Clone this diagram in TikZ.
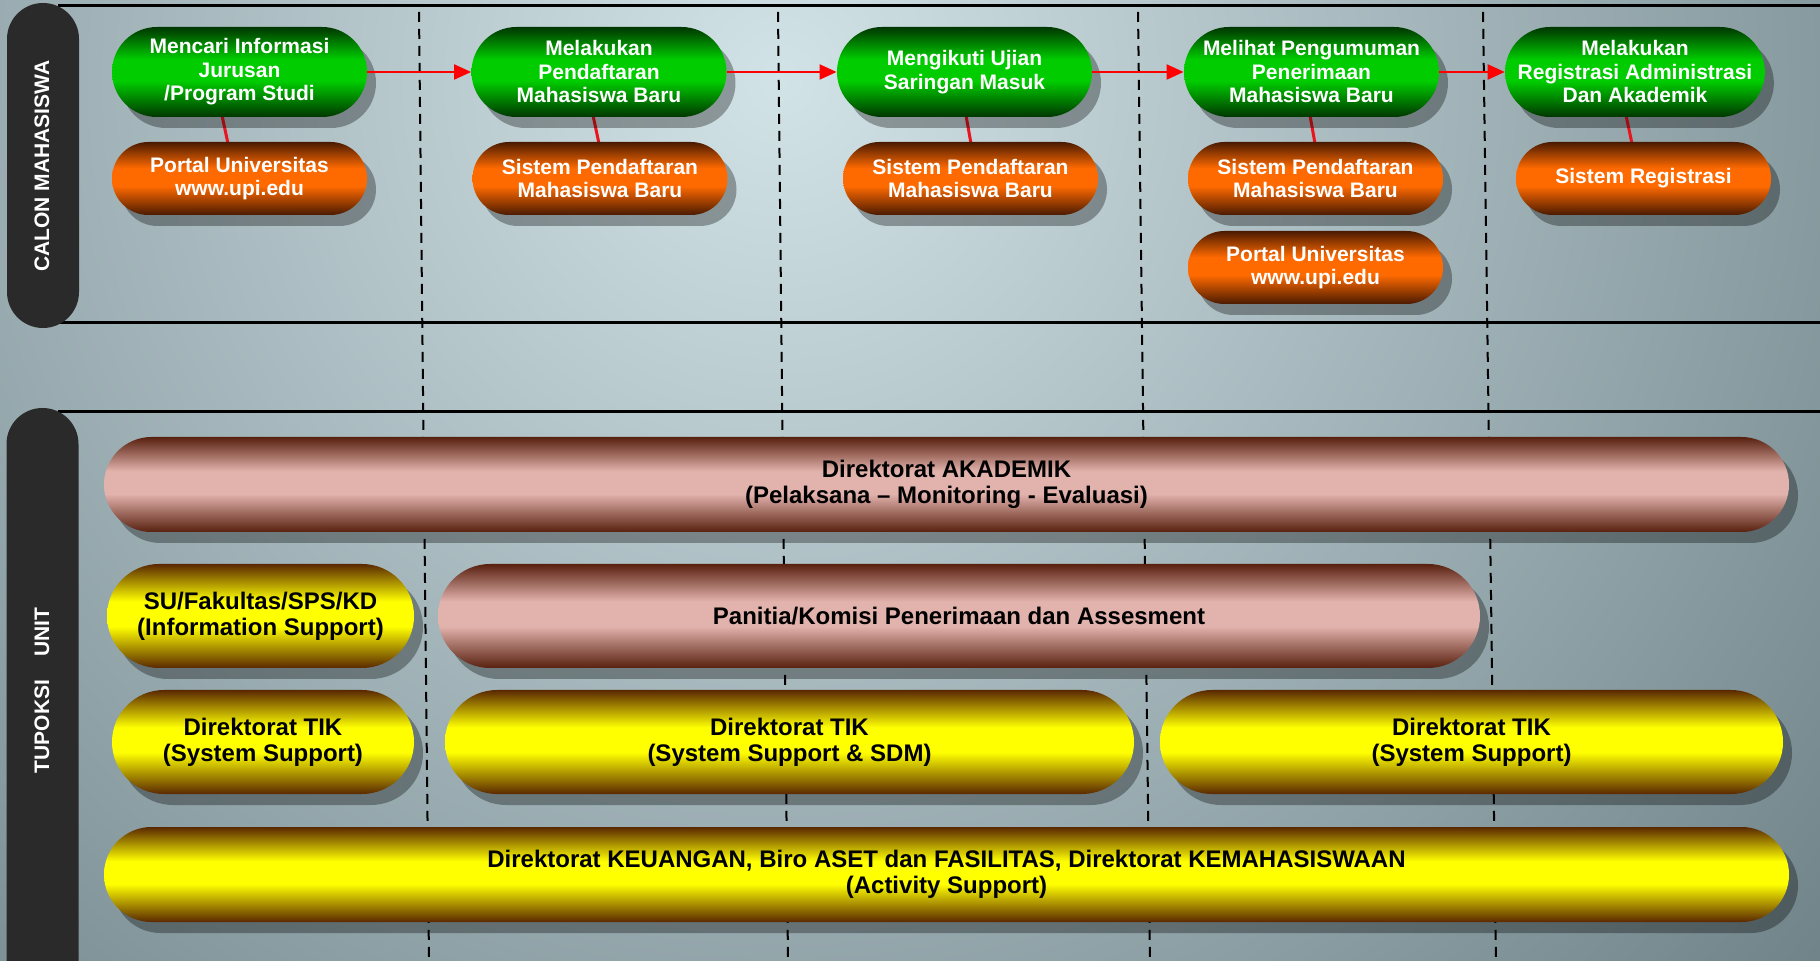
\documentclass[tikz,border=0pt]{standalone}
\usepackage{fontspec}
\setmainfont{Liberation Sans}
\usetikzlibrary{shapes.misc,shadows,arrows.meta,calc}

\definecolor{bglight}{HTML}{D2E3E7}
\definecolor{bgdark}{HTML}{667A7F}
\definecolor{gdark}{HTML}{003600}
\definecolor{gbright}{HTML}{00CC00}
\definecolor{odark}{HTML}{4A1A00}
\definecolor{obright}{HTML}{FF6A00}
\definecolor{pdark}{HTML}{58200F}
\definecolor{pbright}{HTML}{E2B2AC}
\definecolor{ydark}{HTML}{5A2800}
\definecolor{ybright}{HTML}{FFFF00}
\definecolor{sidefill}{HTML}{2A2A2A}
\definecolor{linkred}{HTML}{E8141E}
\definecolor{flowred}{HTML}{FF0000}

\pgfdeclareverticalshading{greenpill}{100bp}{color(0bp)=(gdark); color(25bp)=(gdark); color(45bp)=(gbright); color(57bp)=(gbright); color(75bp)=(gdark); color(100bp)=(gdark)}
\pgfdeclareverticalshading{orangepill}{100bp}{color(0bp)=(odark); color(25bp)=(odark); color(45bp)=(obright); color(57bp)=(obright); color(75bp)=(odark); color(100bp)=(odark)}
\pgfdeclareverticalshading{pinkpill}{100bp}{color(0bp)=(pdark); color(25bp)=(pdark); color(45bp)=(pbright); color(57bp)=(pbright); color(75bp)=(pdark); color(100bp)=(pdark)}
\pgfdeclareverticalshading{yellowpill}{100bp}{color(0bp)=(ydark); color(25bp)=(ydark); color(45bp)=(ybright); color(57bp)=(ybright); color(75bp)=(ydark); color(100bp)=(ydark)}

\pgfdeclarelayer{bg}
\pgfdeclarelayer{conn}
\pgfsetlayers{bg,conn,main}

\newcommand\topfont{\bfseries\fontsize{10.5pt}{11.75pt}\selectfont}
\newcommand\lowfont{\bfseries\fontsize{12pt}{12.9pt}\selectfont}
\newcommand\sidefont{\bfseries\fontsize{10.5pt}{12pt}\selectfont}

\tikzset{
  pill/.style={rounded rectangle, inner sep=0pt, align=center, shade,
    drop shadow={shadow xshift=4.5pt, shadow yshift=-5.5pt, fill=black, opacity=0.32}},
  greenbox/.style={pill, shading=greenpill, text=white, font=\topfont,
    minimum width=127.5pt, minimum height=45pt},
  orangebox/.style={pill, shading=orangepill, text=white, font=\topfont,
    minimum width=127.5pt, minimum height=36.5pt},
  pinkbox/.style={pill, shading=pinkpill, text=black, font=\lowfont},
  yellowbox/.style={pill, shading=yellowpill, text=black, font=\lowfont},
  sidepill/.style={rectangle, fill=sidefill, rounded corners=18pt, minimum width=36pt, inner sep=0pt},
  sidelabel/.style={text=white, font=\sidefont, rotate=90, inner sep=0pt},
  bandline/.style={line width=1.5pt, black},
  divider/.style={line width=1pt, black, dash pattern=on 5pt off 3.5pt},
  link/.style={line width=1.5pt, linkred},
  flow/.style={line width=1pt, flowred, -{Triangle[length=8.5pt,width=7.5pt]}},
}

\begin{document}
\begin{tikzpicture}[x=0.5pt,y=-0.5pt]
\useasboundingbox (0,0) rectangle (1820,961);

\begin{pgfonlayer}{bg}
  \begin{scope}
    \clip (0,0) rectangle (1820,961);
    \shade[inner color=bglight, outer color=bgdark] (780,80) circle (1500);
    % band lines
    \draw[bandline] (58,6) -- (1820,6);
    \draw[bandline] (58,323) -- (1820,323);
    \draw[bandline] (58,412) -- (1820,412);
    % dividers
    \coordinate (d1t) at (419,12);  \coordinate (d1b) at (429,961);
    \coordinate (d2t) at (778,12);  \coordinate (d2b) at (788,961);
    \coordinate (d3t) at (1138,12); \coordinate (d3b) at (1150,961);
    \coordinate (d4t) at (1483,12); \coordinate (d4b) at (1496,961);
    \draw[divider] (d1t) -- (d1b);
    \draw[divider] (d2t) -- (d2b);
    \draw[divider] (d3t) -- (d3b);
    \draw[divider] (d4t) -- (d4b);
  \end{scope}
\end{pgfonlayer}

% side pills
\node[sidepill, minimum height=162.5pt] (calon) at (43,165.5) {};
\node[sidelabel] (calonlbl) at (42,166) {CALON MAHASISWA};
\node[sidepill, minimum height=300pt] (tupoksi) at (42.5,708) {};
\node[sidelabel] (tupoksilbl) at (42,690.5) {TUPOKSI\hspace{11.5pt}UNIT};

% top row: activities
\node[greenbox] (g1) at (239.5,72) {Mencari Informasi\\Jurusan\\/Program Studi};
\node[greenbox] (g2) at (599,72) {Melakukan\\Pendaftaran\\Mahasiswa Baru};
\node[greenbox] (g3) at (964.5,72) {Mengikuti Ujian\\Saringan Masuk};
\node[greenbox] (g4) at (1311.5,72) {Melihat Pengumuman\\Penerimaan\\Mahasiswa Baru};
\node[greenbox] (g5) at (1635,72) {Melakukan\\Registrasi Administrasi\\Dan Akademik};

% systems
\node[orangebox] (o1) at (239.5,178.5) {Portal Universitas\\www.upi.edu};
\node[orangebox] (o2) at (600,178.5) {Sistem Pendaftaran\\Mahasiswa Baru};
\node[orangebox] (o3) at (970.5,178.5) {Sistem Pendaftaran\\Mahasiswa Baru};
\node[orangebox] (o4) at (1315.5,178.5) {Sistem Pendaftaran\\Mahasiswa Baru};
\node[orangebox] (o4b) at (1315.5,267.5) {Portal Universitas\\www.upi.edu};
\node[orangebox] (o5) at (1643.5,178.5) {Sistem Registrasi};

% flow arrows
\draw[flow] (g1.east) -- (g2.west);
\draw[flow] (g2.east) -- (g3.west);
\draw[flow] (g3.east) -- (g4.west);
\draw[flow] (g4.east) -- (g5.west);

% links (under shadows)
\begin{pgfonlayer}{conn}
  \draw[link] ($(g1.south)+(-17.5,-2)$) -- ($(o1.north)+(-11.5,2)$);
  \draw[link] ($(g2.south)+(-6,-2)$) -- ($(o2.north)+(-1,2)$);
  \draw[link] ($(g3.south)+(1.5,-2)$) -- ($(o3.north)+(0.5,2)$);
  \draw[link] ($(g4.south)+(-1.5,-2)$) -- ($(o4.north)+(-0.5,2)$);
  \draw[link] ($(g5.south)+(-9,-2)$) -- ($(o5.north)+(-11.5,2)$);
\end{pgfonlayer}

% lower lane: units
\node[pinkbox, minimum width=842.5pt, minimum height=47.5pt] (ak) at (946.5,484.5)
  {Direktorat AKADEMIK\\(Pelaksana – Monitoring - Evaluasi)};
\node[yellowbox, minimum width=153.5pt, minimum height=52pt] (su) at (260.5,616)
  {SU/Fakultas/SPS/KD\\(Information Support)};
\node[pinkbox, minimum width=521pt, minimum height=52pt] (pan) at (959,616)
  {Panitia/Komisi Penerimaan dan Assesment};
\node[yellowbox, minimum width=151pt, minimum height=52pt] (tik1) at (263,742)
  {Direktorat TIK\\(System Support)};
\node[yellowbox, minimum width=344.5pt, minimum height=52pt] (tik2) at (789.5,742)
  {Direktorat TIK\\(System Support \& SDM)};
\node[yellowbox, minimum width=311.5pt, minimum height=52pt] (tik3) at (1471.5,742)
  {Direktorat TIK\\(System Support)};
\node[yellowbox, minimum width=842.5pt, minimum height=47.5pt] (keu) at (946.5,874.5)
  {Direktorat KEUANGAN, Biro ASET dan FASILITAS, Direktorat KEMAHASISWAAN\\(Activity Support)};
\end{tikzpicture}
\end{document}
